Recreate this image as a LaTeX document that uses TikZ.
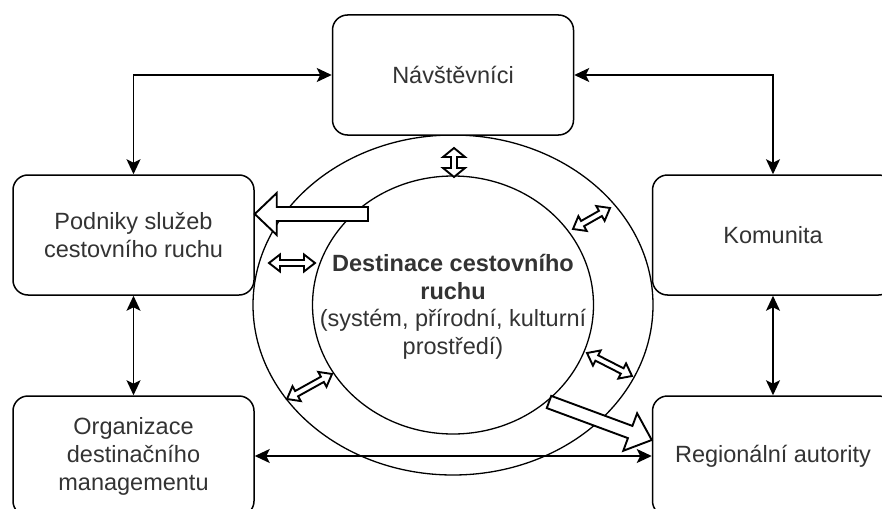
\documentclass[tikz,border=0pt]{standalone}
\usepackage{fontspec}
\setmainfont{Liberation Sans}
\usetikzlibrary{calc,arrows.meta,shapes.geometric}

\definecolor{txt}{HTML}{333333}

\tikzset{
  box/.style={draw, line width=1.5pt, rounded corners=15pt, fill=white,
    minimum width=241pt, minimum height=120pt, inner sep=0pt, align=center,
    text=txt, font=\fontsize{23.5}{28}\selectfont},
  ring/.style={draw, ellipse, line width=1.3pt, inner sep=0pt},
  tip/.style={Stealth[length=15pt,width=14pt,inset=3.5pt]},
  link/.style={line width=1.6pt, {Stealth[length=15pt,width=14pt,inset=3.5pt]}-{Stealth[length=15pt,width=14pt,inset=3.5pt]}},
  blockline/.style={draw, fill=white, line width=1.9pt, line join=miter},
}

% hollow block arrow from #1 (tail) to #2 (tip):
% #3 head length, #4 shaft half-width, #5 head half-width
\newcommand\blockarr[5]{%
  \coordinate (bh) at ($(#2)!#3!(#1)$);
  \draw[blockline] ($(#1)!#4!90:(#2)$) -- ($(bh)!#4!90:(#2)$) -- ($(bh)!#5!90:(#2)$)
    -- (#2) -- ($(bh)!#5!-90:(#2)$) -- ($(bh)!#4!-90:(#2)$) -- ($(#1)!#4!-90:(#2)$) -- cycle;
}
% hollow double-headed block arrow between #1 and #2
\newcommand\dblarr[5]{%
  \coordinate (ha) at ($(#1)!#3!(#2)$);
  \coordinate (hb) at ($(#2)!#3!(#1)$);
  \draw[blockline] (#1) -- ($(ha)!#5!90:(#2)$) -- ($(ha)!#4!90:(#2)$)
    -- ($(hb)!#4!-90:(#1)$) -- ($(hb)!#5!-90:(#1)$) -- (#2)
    -- ($(hb)!#5!90:(#1)$) -- ($(hb)!#4!90:(#1)$)
    -- ($(ha)!#4!-90:(#2)$) -- ($(ha)!#5!-90:(#2)$) -- cycle;
}

\begin{document}
\begin{tikzpicture}[x=1pt, y=-1pt]
  \useasboundingbox (0,0) rectangle (882,508);
  \clip (0,0) rectangle (882,508);

  % central destination rings
  \node[ring, minimum width=400pt, minimum height=340pt] (outer) at (453,305) {};
  \node[ring, minimum width=281pt, minimum height=258pt] (inner) at (453,305) {};
  \node[align=center, text=txt, font=\fontsize{23.5}{27.5}\selectfont] (dest) at (453,307)
    {\textbf{Destinace cestovního}\\\textbf{ruchu}\\(systém, přírodní, kulturní\\prostředí)};

  % stakeholders
  \node[box] (nav) at (453,75)  {Návštěvníci};
  \node[box] (pod) at (133.5,235) {Podniky služeb\\cestovního ruchu};
  \node[box] (kom) at (773,235) {Komunita};
  \node[box] (org) at (133.5,456) {Organizace\\destinačního\\managementu};
  \node[box] (reg) at (773,456) {Regionální autority};

  % relations between stakeholders
  \draw[link] (pod.north) |- (nav.west);
  \draw[link] (kom.north) |- (nav.east);
  \draw[link] (pod.south) -- (org.north);
  \draw[link] (kom.south) -- (reg.north);
  \draw[link] (org.east) -- (reg.west);

  % flows out of the destination
  \coordinate (l1) at (368,214);
  \coordinate (l2) at (pod.east |- l1);
  \blockarr{l1}{l2}{22pt}{7pt}{21pt}
  \coordinate (r1) at (549,402);
  \coordinate (r2) at (reg.west |- 0,440);
  \blockarr{r1}{r2}{23pt}{6.5pt}{20pt}

  % exchanges across the ring
  \coordinate (t1) at (454,148);
  \coordinate (t2) at (454,177);
  \dblarr{t1}{t2}{9pt}{3pt}{11pt}
  \coordinate (u1) at (573,229);
  \coordinate (u2) at (610,208);
  \dblarr{u1}{u2}{11pt}{3pt}{8.5pt}
  \coordinate (w1) at (269,263);
  \coordinate (w2) at (315,263);
  \dblarr{w1}{w2}{11pt}{3pt}{8.5pt}
  \coordinate (s1) at (287,399);
  \coordinate (s2) at (332,374);
  \dblarr{s1}{s2}{11pt}{3pt}{8.5pt}
  \coordinate (e1) at (587,353);
  \coordinate (e2) at (632,376);
  \dblarr{e1}{e2}{11pt}{3pt}{8.5pt}
\end{tikzpicture}
\end{document}
